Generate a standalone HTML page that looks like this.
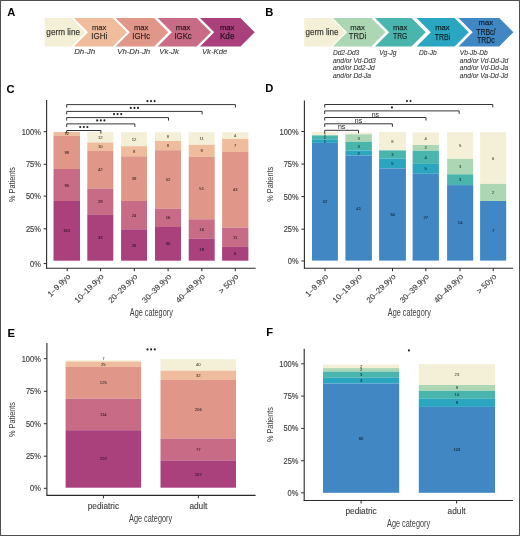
<!DOCTYPE html>
<html><head><meta charset="utf-8"><style>
html,body{margin:0;padding:0;background:#fff;}
svg{display:block;font-family:"Liberation Sans", sans-serif;will-change:transform;opacity:0.999;}
</style></head><body>
<svg width="520" height="536" viewBox="0 0 520 536">
<rect width="520" height="536" fill="#fff"/>
<rect x="0.5" y="0.5" width="519" height="535" fill="none" stroke="#4e4e4e" stroke-width="1"/>
<text x="7.3" y="16.2" font-size="11.2" fill="#000" text-anchor="start" font-weight="bold" font-style="normal" >A</text>
<text x="265.2" y="16.2" font-size="11.2" fill="#000" text-anchor="start" font-weight="bold" font-style="normal" >B</text>
<text x="6.6" y="92.7" font-size="11.2" fill="#000" text-anchor="start" font-weight="bold" font-style="normal" >C</text>
<text x="265.2" y="92.2" font-size="11.2" fill="#000" text-anchor="start" font-weight="bold" font-style="normal" >D</text>
<text x="7.4" y="336.7" font-size="11.2" fill="#000" text-anchor="start" font-weight="bold" font-style="normal" >E</text>
<text x="266.2" y="336.3" font-size="11.2" fill="#000" text-anchor="start" font-weight="bold" font-style="normal" >F</text>
<polygon points="44.60,18.00 71.60,18.00 85.80,32.20 71.60,46.40 44.60,46.40" fill="#f4f0d8"/>
<polygon points="73.80,18.00 112.80,18.00 127.00,32.20 112.80,46.40 73.80,46.40 88.00,32.20" fill="#efbd9d"/>
<polygon points="115.60,18.00 154.10,18.00 168.30,32.20 154.10,46.40 115.60,46.40 129.80,32.20" fill="#e0978a"/>
<polygon points="157.70,18.00 196.70,18.00 210.90,32.20 196.70,46.40 157.70,46.40 171.90,32.20" fill="#c86b86"/>
<polygon points="200.00,18.00 240.50,18.00 254.70,32.20 240.50,46.40 200.00,46.40 214.20,32.20" fill="#aa417c"/>
<polygon points="304.20,18.00 331.20,18.00 345.40,32.20 331.20,46.40 304.20,46.40" fill="#f4f0d8"/>
<polygon points="332.80,18.00 371.30,18.00 385.50,32.20 371.30,46.40 332.80,46.40 347.00,32.20" fill="#add6b5"/>
<polygon points="375.00,18.00 411.50,18.00 425.70,32.20 411.50,46.40 375.00,46.40 389.20,32.20" fill="#4ab5ad"/>
<polygon points="416.60,18.00 454.60,18.00 468.80,32.20 454.60,46.40 416.60,46.40 430.80,32.20" fill="#2ba6c1"/>
<polygon points="458.50,18.00 499.20,18.00 513.40,32.20 499.20,46.40 458.50,46.40 472.70,32.20" fill="#4187c3"/>
<text x="63.2" y="34.6" font-size="8.2" fill="#000" fill-opacity="0.78" stroke="#000" stroke-opacity="0.5" stroke-width="0.25" text-anchor="middle" textLength="33.7" lengthAdjust="spacingAndGlyphs">germ line</text>
<text x="99.2" y="29.8" font-size="7.8" fill="#000" fill-opacity="0.78" stroke="#000" stroke-opacity="0.5" stroke-width="0.25" text-anchor="middle" textLength="14.5" lengthAdjust="spacingAndGlyphs">max</text>
<text x="99.2" y="39.4" font-size="8.4" fill="#000" fill-opacity="0.78" stroke="#000" stroke-opacity="0.5" stroke-width="0.25" text-anchor="middle" textLength="15.9" lengthAdjust="spacingAndGlyphs">IGHi</text>
<text x="141.2" y="29.8" font-size="7.8" fill="#000" fill-opacity="0.78" stroke="#000" stroke-opacity="0.5" stroke-width="0.25" text-anchor="middle" textLength="14.5" lengthAdjust="spacingAndGlyphs">max</text>
<text x="141.2" y="39.4" font-size="8.4" fill="#000" fill-opacity="0.78" stroke="#000" stroke-opacity="0.5" stroke-width="0.25" text-anchor="middle" textLength="17.8" lengthAdjust="spacingAndGlyphs">IGHc</text>
<text x="183.1" y="29.8" font-size="7.8" fill="#000" fill-opacity="0.78" stroke="#000" stroke-opacity="0.5" stroke-width="0.25" text-anchor="middle" textLength="14.5" lengthAdjust="spacingAndGlyphs">max</text>
<text x="183.1" y="39.4" font-size="8.4" fill="#000" fill-opacity="0.78" stroke="#000" stroke-opacity="0.5" stroke-width="0.25" text-anchor="middle" textLength="17.3" lengthAdjust="spacingAndGlyphs">IGKc</text>
<text x="227.2" y="29.8" font-size="7.8" fill="#000" fill-opacity="0.78" stroke="#000" stroke-opacity="0.5" stroke-width="0.25" text-anchor="middle" textLength="14.5" lengthAdjust="spacingAndGlyphs">max</text>
<text x="227.2" y="39.4" font-size="8.4" fill="#000" fill-opacity="0.78" stroke="#000" stroke-opacity="0.5" stroke-width="0.25" text-anchor="middle" textLength="14.5" lengthAdjust="spacingAndGlyphs">Kde</text>
<text x="322.0" y="34.6" font-size="8.2" fill="#000" fill-opacity="0.78" stroke="#000" stroke-opacity="0.5" stroke-width="0.25" text-anchor="middle" textLength="33.0" lengthAdjust="spacingAndGlyphs">germ line</text>
<text x="357.5" y="29.8" font-size="7.8" fill="#000" fill-opacity="0.78" stroke="#000" stroke-opacity="0.5" stroke-width="0.25" text-anchor="middle" textLength="14.5" lengthAdjust="spacingAndGlyphs">max</text>
<text x="357.5" y="39.4" font-size="8.4" fill="#000" fill-opacity="0.78" stroke="#000" stroke-opacity="0.5" stroke-width="0.25" text-anchor="middle" textLength="17.3" lengthAdjust="spacingAndGlyphs">TRDi</text>
<text x="400.2" y="29.8" font-size="7.8" fill="#000" fill-opacity="0.78" stroke="#000" stroke-opacity="0.5" stroke-width="0.25" text-anchor="middle" textLength="14.5" lengthAdjust="spacingAndGlyphs">max</text>
<text x="400.2" y="39.4" font-size="8.4" fill="#000" fill-opacity="0.78" stroke="#000" stroke-opacity="0.5" stroke-width="0.25" text-anchor="middle" textLength="14.3" lengthAdjust="spacingAndGlyphs">TRG</text>
<text x="442.4" y="29.8" font-size="7.8" fill="#000" fill-opacity="0.78" stroke="#000" stroke-opacity="0.5" stroke-width="0.25" text-anchor="middle" textLength="14.5" lengthAdjust="spacingAndGlyphs">max</text>
<text x="442.4" y="39.6" font-size="8.4" fill="#000" fill-opacity="0.78" stroke="#000" stroke-opacity="0.5" stroke-width="0.25" text-anchor="middle" textLength="15.4" lengthAdjust="spacingAndGlyphs">TRBi</text>
<text x="485.8" y="24.9" font-size="7.8" fill="#000" fill-opacity="0.78" stroke="#000" stroke-opacity="0.5" stroke-width="0.25" text-anchor="middle" textLength="14.5" lengthAdjust="spacingAndGlyphs">max</text>
<text x="485.8" y="34.5" font-size="8.4" fill="#000" fill-opacity="0.78" stroke="#000" stroke-opacity="0.5" stroke-width="0.25" text-anchor="middle" textLength="19.2" lengthAdjust="spacingAndGlyphs">TRBc/</text>
<text x="485.8" y="43.4" font-size="8.4" fill="#000" fill-opacity="0.78" stroke="#000" stroke-opacity="0.5" stroke-width="0.25" text-anchor="middle" textLength="17.6" lengthAdjust="spacingAndGlyphs">TRDc</text>
<text x="74.2" y="54.4" font-size="7.3" fill="#222" fill-opacity="0.9" stroke="#222" stroke-opacity="0.5" stroke-width="0.15" font-style="italic" textLength="21" lengthAdjust="spacingAndGlyphs">Dh-Jh</text>
<text x="117.2" y="54.4" font-size="7.3" fill="#222" fill-opacity="0.9" stroke="#222" stroke-opacity="0.5" stroke-width="0.15" font-style="italic" textLength="33" lengthAdjust="spacingAndGlyphs">Vh-Dh-Jh</text>
<text x="159.3" y="54.4" font-size="7.3" fill="#222" fill-opacity="0.9" stroke="#222" stroke-opacity="0.5" stroke-width="0.15" font-style="italic" textLength="19.5" lengthAdjust="spacingAndGlyphs">Vk-Jk</text>
<text x="201.9" y="54.4" font-size="7.3" fill="#222" fill-opacity="0.9" stroke="#222" stroke-opacity="0.5" stroke-width="0.15" font-style="italic" textLength="25.4" lengthAdjust="spacingAndGlyphs">Vk-Kde</text>
<text x="332.9" y="55.0" font-size="6.6" fill="#222" fill-opacity="0.9" stroke="#222" stroke-opacity="0.5" stroke-width="0.15" font-style="italic">Dd2-Dd3</text>
<text x="332.9" y="62.6" font-size="6.6" fill="#222" fill-opacity="0.9" stroke="#222" stroke-opacity="0.5" stroke-width="0.15" font-style="italic">and/or Vd-Dd3</text>
<text x="332.9" y="70.2" font-size="6.6" fill="#222" fill-opacity="0.9" stroke="#222" stroke-opacity="0.5" stroke-width="0.15" font-style="italic">and/or Dd2-Jd</text>
<text x="332.9" y="77.8" font-size="6.6" fill="#222" fill-opacity="0.9" stroke="#222" stroke-opacity="0.5" stroke-width="0.15" font-style="italic">and/or Dd-Ja</text>
<text x="379.2" y="55.0" font-size="6.6" fill="#222" fill-opacity="0.9" stroke="#222" stroke-opacity="0.5" stroke-width="0.15" font-style="italic">Vg-Jg</text>
<text x="419.1" y="55.0" font-size="6.6" fill="#222" fill-opacity="0.9" stroke="#222" stroke-opacity="0.5" stroke-width="0.15" font-style="italic">Db-Jb</text>
<text x="459.8" y="55.0" font-size="6.6" fill="#222" fill-opacity="0.9" stroke="#222" stroke-opacity="0.5" stroke-width="0.15" font-style="italic">Vb-Jb-Db</text>
<text x="459.8" y="62.5" font-size="6.6" fill="#222" fill-opacity="0.9" stroke="#222" stroke-opacity="0.5" stroke-width="0.15" font-style="italic">and/or Vd-Dd-Jd</text>
<text x="459.8" y="70.0" font-size="6.6" fill="#222" fill-opacity="0.9" stroke="#222" stroke-opacity="0.5" stroke-width="0.15" font-style="italic">and/or Vd-Dd-Ja</text>
<text x="459.8" y="77.5" font-size="6.6" fill="#222" fill-opacity="0.9" stroke="#222" stroke-opacity="0.5" stroke-width="0.15" font-style="italic">and/or Va-Dd-Jd</text>
<rect x="53.50" y="132.00" width="26.50" height="3.80" fill="#efbd9d"/>
<rect x="53.50" y="135.80" width="26.50" height="33.20" fill="#e0978a"/>
<rect x="53.50" y="169.00" width="26.50" height="32.00" fill="#c86b86"/>
<rect x="53.50" y="201.00" width="26.50" height="59.70" fill="#aa417c"/>
<text x="66.75" y="135.41" font-size="4.2" fill="#000" fill-opacity="0.75" stroke="#000" stroke-opacity="0.35" stroke-width="0.12" text-anchor="middle">12</text>
<text x="66.75" y="153.91" font-size="4.2" fill="#000" fill-opacity="0.75" stroke="#000" stroke-opacity="0.35" stroke-width="0.12" text-anchor="middle">98</text>
<text x="66.75" y="186.51" font-size="4.2" fill="#000" fill-opacity="0.75" stroke="#000" stroke-opacity="0.35" stroke-width="0.12" text-anchor="middle">95</text>
<text x="66.75" y="232.36" font-size="4.2" fill="#000" fill-opacity="0.75" stroke="#000" stroke-opacity="0.35" stroke-width="0.12" text-anchor="middle">161</text>
<rect x="87.30" y="132.00" width="26.00" height="10.50" fill="#f4f0d8"/>
<rect x="87.30" y="142.50" width="26.00" height="8.40" fill="#efbd9d"/>
<rect x="87.30" y="150.90" width="26.00" height="37.70" fill="#e0978a"/>
<rect x="87.30" y="188.60" width="26.00" height="26.30" fill="#c86b86"/>
<rect x="87.30" y="214.90" width="26.00" height="45.80" fill="#aa417c"/>
<text x="100.30" y="138.76" font-size="4.2" fill="#000" fill-opacity="0.75" stroke="#000" stroke-opacity="0.35" stroke-width="0.12" text-anchor="middle">12</text>
<text x="100.30" y="148.21" font-size="4.2" fill="#000" fill-opacity="0.75" stroke="#000" stroke-opacity="0.35" stroke-width="0.12" text-anchor="middle">10</text>
<text x="100.30" y="171.26" font-size="4.2" fill="#000" fill-opacity="0.75" stroke="#000" stroke-opacity="0.35" stroke-width="0.12" text-anchor="middle">42</text>
<text x="100.30" y="203.26" font-size="4.2" fill="#000" fill-opacity="0.75" stroke="#000" stroke-opacity="0.35" stroke-width="0.12" text-anchor="middle">29</text>
<text x="100.30" y="239.31" font-size="4.2" fill="#000" fill-opacity="0.75" stroke="#000" stroke-opacity="0.35" stroke-width="0.12" text-anchor="middle">33</text>
<rect x="121.10" y="132.30" width="25.90" height="13.90" fill="#f4f0d8"/>
<rect x="121.10" y="146.20" width="25.90" height="10.10" fill="#efbd9d"/>
<rect x="121.10" y="156.30" width="25.90" height="44.70" fill="#e0978a"/>
<rect x="121.10" y="201.00" width="25.90" height="28.30" fill="#c86b86"/>
<rect x="121.10" y="229.30" width="25.90" height="31.40" fill="#aa417c"/>
<text x="134.05" y="140.76" font-size="4.2" fill="#000" fill-opacity="0.75" stroke="#000" stroke-opacity="0.35" stroke-width="0.12" text-anchor="middle">12</text>
<text x="134.05" y="152.76" font-size="4.2" fill="#000" fill-opacity="0.75" stroke="#000" stroke-opacity="0.35" stroke-width="0.12" text-anchor="middle">8</text>
<text x="134.05" y="180.16" font-size="4.2" fill="#000" fill-opacity="0.75" stroke="#000" stroke-opacity="0.35" stroke-width="0.12" text-anchor="middle">39</text>
<text x="134.05" y="216.66" font-size="4.2" fill="#000" fill-opacity="0.75" stroke="#000" stroke-opacity="0.35" stroke-width="0.12" text-anchor="middle">24</text>
<text x="134.05" y="246.51" font-size="4.2" fill="#000" fill-opacity="0.75" stroke="#000" stroke-opacity="0.35" stroke-width="0.12" text-anchor="middle">26</text>
<rect x="155.00" y="132.30" width="26.00" height="8.70" fill="#f4f0d8"/>
<rect x="155.00" y="141.00" width="26.00" height="9.20" fill="#efbd9d"/>
<rect x="155.00" y="150.20" width="26.00" height="58.60" fill="#e0978a"/>
<rect x="155.00" y="208.80" width="26.00" height="18.20" fill="#c86b86"/>
<rect x="155.00" y="227.00" width="26.00" height="33.70" fill="#aa417c"/>
<text x="168.00" y="138.16" font-size="4.2" fill="#000" fill-opacity="0.75" stroke="#000" stroke-opacity="0.35" stroke-width="0.12" text-anchor="middle">8</text>
<text x="168.00" y="147.11" font-size="4.2" fill="#000" fill-opacity="0.75" stroke="#000" stroke-opacity="0.35" stroke-width="0.12" text-anchor="middle">8</text>
<text x="168.00" y="181.01" font-size="4.2" fill="#000" fill-opacity="0.75" stroke="#000" stroke-opacity="0.35" stroke-width="0.12" text-anchor="middle">52</text>
<text x="168.00" y="219.41" font-size="4.2" fill="#000" fill-opacity="0.75" stroke="#000" stroke-opacity="0.35" stroke-width="0.12" text-anchor="middle">16</text>
<text x="168.00" y="245.36" font-size="4.2" fill="#000" fill-opacity="0.75" stroke="#000" stroke-opacity="0.35" stroke-width="0.12" text-anchor="middle">30</text>
<rect x="188.70" y="132.30" width="26.00" height="12.50" fill="#f4f0d8"/>
<rect x="188.70" y="144.80" width="26.00" height="12.10" fill="#efbd9d"/>
<rect x="188.70" y="156.90" width="26.00" height="62.40" fill="#e0978a"/>
<rect x="188.70" y="219.30" width="26.00" height="19.50" fill="#c86b86"/>
<rect x="188.70" y="238.80" width="26.00" height="21.90" fill="#aa417c"/>
<text x="201.70" y="140.06" font-size="4.2" fill="#000" fill-opacity="0.75" stroke="#000" stroke-opacity="0.35" stroke-width="0.12" text-anchor="middle">11</text>
<text x="201.70" y="152.36" font-size="4.2" fill="#000" fill-opacity="0.75" stroke="#000" stroke-opacity="0.35" stroke-width="0.12" text-anchor="middle">9</text>
<text x="201.70" y="189.61" font-size="4.2" fill="#000" fill-opacity="0.75" stroke="#000" stroke-opacity="0.35" stroke-width="0.12" text-anchor="middle">51</text>
<text x="201.70" y="230.56" font-size="4.2" fill="#000" fill-opacity="0.75" stroke="#000" stroke-opacity="0.35" stroke-width="0.12" text-anchor="middle">16</text>
<text x="201.70" y="251.26" font-size="4.2" fill="#000" fill-opacity="0.75" stroke="#000" stroke-opacity="0.35" stroke-width="0.12" text-anchor="middle">18</text>
<rect x="222.10" y="132.30" width="26.30" height="6.50" fill="#f4f0d8"/>
<rect x="222.10" y="138.80" width="26.30" height="13.20" fill="#efbd9d"/>
<rect x="222.10" y="152.00" width="26.30" height="75.60" fill="#e0978a"/>
<rect x="222.10" y="227.60" width="26.30" height="19.30" fill="#c86b86"/>
<rect x="222.10" y="246.90" width="26.30" height="13.80" fill="#aa417c"/>
<text x="235.25" y="137.06" font-size="4.2" fill="#000" fill-opacity="0.75" stroke="#000" stroke-opacity="0.35" stroke-width="0.12" text-anchor="middle">4</text>
<text x="235.25" y="146.91" font-size="4.2" fill="#000" fill-opacity="0.75" stroke="#000" stroke-opacity="0.35" stroke-width="0.12" text-anchor="middle">7</text>
<text x="235.25" y="191.31" font-size="4.2" fill="#000" fill-opacity="0.75" stroke="#000" stroke-opacity="0.35" stroke-width="0.12" text-anchor="middle">43</text>
<text x="235.25" y="238.76" font-size="4.2" fill="#000" fill-opacity="0.75" stroke="#000" stroke-opacity="0.35" stroke-width="0.12" text-anchor="middle">11</text>
<text x="235.25" y="255.31" font-size="4.2" fill="#000" fill-opacity="0.75" stroke="#000" stroke-opacity="0.35" stroke-width="0.12" text-anchor="middle">6</text>
<line x1="46.6" y1="100.0" x2="46.6" y2="268.6" stroke="#2b2b2b" stroke-width="1.1"/>
<line x1="43.6" y1="131.7" x2="46.6" y2="131.7" stroke="#2b2b2b" stroke-width="1.0"/>
<text transform="translate(40.8,134.70) scale(0.9,1)" font-size="8.3" fill="#404040" stroke="#404040" stroke-width="0.15" text-anchor="end">100%</text>
<line x1="43.6" y1="164.3" x2="46.6" y2="164.3" stroke="#2b2b2b" stroke-width="1.0"/>
<text transform="translate(40.8,167.30) scale(0.9,1)" font-size="8.3" fill="#404040" stroke="#404040" stroke-width="0.15" text-anchor="end">75%</text>
<line x1="43.6" y1="196.1" x2="46.6" y2="196.1" stroke="#2b2b2b" stroke-width="1.0"/>
<text transform="translate(40.8,199.10) scale(0.9,1)" font-size="8.3" fill="#404040" stroke="#404040" stroke-width="0.15" text-anchor="end">50%</text>
<line x1="43.6" y1="228.8" x2="46.6" y2="228.8" stroke="#2b2b2b" stroke-width="1.0"/>
<text transform="translate(40.8,231.80) scale(0.9,1)" font-size="8.3" fill="#404040" stroke="#404040" stroke-width="0.15" text-anchor="end">25%</text>
<line x1="43.6" y1="263.6" x2="46.6" y2="263.6" stroke="#2b2b2b" stroke-width="1.0"/>
<text transform="translate(40.8,266.60) scale(0.9,1)" font-size="8.3" fill="#404040" stroke="#404040" stroke-width="0.15" text-anchor="end">0%</text>
<line x1="46.1" y1="268.2" x2="255.6" y2="268.2" stroke="#2b2b2b" stroke-width="1.1"/>
<line x1="67.2" y1="268.2" x2="67.2" y2="271.2" stroke="#2b2b2b" stroke-width="1.0"/>
<line x1="100.6" y1="268.2" x2="100.6" y2="271.2" stroke="#2b2b2b" stroke-width="1.0"/>
<line x1="134.3" y1="268.2" x2="134.3" y2="271.2" stroke="#2b2b2b" stroke-width="1.0"/>
<line x1="168.1" y1="268.2" x2="168.1" y2="271.2" stroke="#2b2b2b" stroke-width="1.0"/>
<line x1="201.8" y1="268.2" x2="201.8" y2="271.2" stroke="#2b2b2b" stroke-width="1.0"/>
<line x1="235.3" y1="268.2" x2="235.3" y2="271.2" stroke="#2b2b2b" stroke-width="1.0"/>
<path d="M66.7,133.5 V130.5 H100.9 V133.5" fill="none" stroke="#2b2b2b" stroke-width="0.95"/>
<circle cx="80.20" cy="127.00" r="1.05" fill="#1e1e1e"/>
<circle cx="83.80" cy="127.00" r="1.05" fill="#1e1e1e"/>
<circle cx="87.40" cy="127.00" r="1.05" fill="#1e1e1e"/>
<path d="M66.7,126.9 V123.9 H134.9 V126.9" fill="none" stroke="#2b2b2b" stroke-width="0.95"/>
<circle cx="97.20" cy="120.40" r="1.05" fill="#1e1e1e"/>
<circle cx="100.80" cy="120.40" r="1.05" fill="#1e1e1e"/>
<circle cx="104.40" cy="120.40" r="1.05" fill="#1e1e1e"/>
<path d="M66.7,120.6 V117.6 H168.5 V120.6" fill="none" stroke="#2b2b2b" stroke-width="0.95"/>
<circle cx="114.00" cy="114.10" r="1.05" fill="#1e1e1e"/>
<circle cx="117.60" cy="114.10" r="1.05" fill="#1e1e1e"/>
<circle cx="121.20" cy="114.10" r="1.05" fill="#1e1e1e"/>
<path d="M66.7,114.4 V111.4 H202.1 V114.4" fill="none" stroke="#2b2b2b" stroke-width="0.95"/>
<circle cx="130.80" cy="107.90" r="1.05" fill="#1e1e1e"/>
<circle cx="134.40" cy="107.90" r="1.05" fill="#1e1e1e"/>
<circle cx="138.00" cy="107.90" r="1.05" fill="#1e1e1e"/>
<path d="M66.7,107.6 V104.6 H235.4 V107.6" fill="none" stroke="#2b2b2b" stroke-width="0.95"/>
<circle cx="147.45" cy="101.10" r="1.05" fill="#1e1e1e"/>
<circle cx="151.05" cy="101.10" r="1.05" fill="#1e1e1e"/>
<circle cx="154.65" cy="101.10" r="1.05" fill="#1e1e1e"/>
<text x="0" y="0" transform="translate(15.3,184.5) rotate(-90)" font-size="9" fill="#404040" text-anchor="middle" textLength="35" lengthAdjust="spacingAndGlyphs">% Patients</text>
<text x="151.3" y="316.2" font-size="10.1" fill="#404040" text-anchor="middle" textLength="43" lengthAdjust="spacingAndGlyphs">Age category</text>
<text x="0" y="0" transform="translate(70.8,277.0) rotate(-45)" font-size="8.0" fill="#404040" stroke="#404040" stroke-width="0.12" text-anchor="end">1–9.9yo</text>
<text x="0" y="0" transform="translate(104.19999999999999,277.0) rotate(-45)" font-size="8.0" fill="#404040" stroke="#404040" stroke-width="0.12" text-anchor="end">10–19.9yo</text>
<text x="0" y="0" transform="translate(137.9,277.0) rotate(-45)" font-size="8.0" fill="#404040" stroke="#404040" stroke-width="0.12" text-anchor="end">20–29.9yo</text>
<text x="0" y="0" transform="translate(171.7,277.0) rotate(-45)" font-size="8.0" fill="#404040" stroke="#404040" stroke-width="0.12" text-anchor="end">30–39.9yo</text>
<text x="0" y="0" transform="translate(205.4,277.0) rotate(-45)" font-size="8.0" fill="#404040" stroke="#404040" stroke-width="0.12" text-anchor="end">40–49.9yo</text>
<text x="0" y="0" transform="translate(238.9,277.0) rotate(-45)" font-size="8.0" fill="#404040" stroke="#404040" stroke-width="0.12" text-anchor="end">&gt; 50yo</text>
<rect x="312.00" y="131.90" width="25.90" height="3.50" fill="#f4f0d8"/>
<rect x="312.00" y="135.40" width="25.90" height="3.90" fill="#4ab5ad"/>
<rect x="312.00" y="139.30" width="25.90" height="3.60" fill="#2ba6c1"/>
<rect x="312.00" y="142.90" width="25.90" height="117.70" fill="#4187c3"/>
<text x="324.95" y="135.51" font-size="4.2" fill="#000" fill-opacity="0.75" stroke="#000" stroke-opacity="0.35" stroke-width="0.12" text-anchor="middle">1</text>
<text x="324.95" y="139.11" font-size="4.2" fill="#000" fill-opacity="0.75" stroke="#000" stroke-opacity="0.35" stroke-width="0.12" text-anchor="middle">1</text>
<text x="324.95" y="142.71" font-size="4.2" fill="#000" fill-opacity="0.75" stroke="#000" stroke-opacity="0.35" stroke-width="0.12" text-anchor="middle">1</text>
<text x="324.95" y="203.26" font-size="4.2" fill="#000" fill-opacity="0.75" stroke="#000" stroke-opacity="0.35" stroke-width="0.12" text-anchor="middle">32</text>
<rect x="345.40" y="132.50" width="26.50" height="1.80" fill="#f4f0d8"/>
<rect x="345.40" y="134.30" width="26.50" height="7.60" fill="#add6b5"/>
<rect x="345.40" y="141.90" width="26.50" height="8.70" fill="#4ab5ad"/>
<rect x="345.40" y="150.60" width="26.50" height="5.00" fill="#2ba6c1"/>
<rect x="345.40" y="155.60" width="26.50" height="105.00" fill="#4187c3"/>
<text x="358.65" y="139.61" font-size="4.2" fill="#000" fill-opacity="0.75" stroke="#000" stroke-opacity="0.35" stroke-width="0.12" text-anchor="middle">3</text>
<text x="358.65" y="147.76" font-size="4.2" fill="#000" fill-opacity="0.75" stroke="#000" stroke-opacity="0.35" stroke-width="0.12" text-anchor="middle">3</text>
<text x="358.65" y="154.61" font-size="4.2" fill="#000" fill-opacity="0.75" stroke="#000" stroke-opacity="0.35" stroke-width="0.12" text-anchor="middle">2</text>
<text x="358.65" y="209.61" font-size="4.2" fill="#000" fill-opacity="0.75" stroke="#000" stroke-opacity="0.35" stroke-width="0.12" text-anchor="middle">41</text>
<rect x="379.10" y="132.00" width="26.80" height="18.40" fill="#f4f0d8"/>
<rect x="379.10" y="150.40" width="26.80" height="8.30" fill="#4ab5ad"/>
<rect x="379.10" y="158.70" width="26.80" height="9.70" fill="#2ba6c1"/>
<rect x="379.10" y="168.40" width="26.80" height="92.20" fill="#4187c3"/>
<text x="392.50" y="142.71" font-size="4.2" fill="#000" fill-opacity="0.75" stroke="#000" stroke-opacity="0.35" stroke-width="0.12" text-anchor="middle">8</text>
<text x="392.50" y="156.06" font-size="4.2" fill="#000" fill-opacity="0.75" stroke="#000" stroke-opacity="0.35" stroke-width="0.12" text-anchor="middle">3</text>
<text x="392.50" y="165.06" font-size="4.2" fill="#000" fill-opacity="0.75" stroke="#000" stroke-opacity="0.35" stroke-width="0.12" text-anchor="middle">5</text>
<text x="392.50" y="216.01" font-size="4.2" fill="#000" fill-opacity="0.75" stroke="#000" stroke-opacity="0.35" stroke-width="0.12" text-anchor="middle">34</text>
<rect x="412.60" y="132.40" width="26.30" height="12.60" fill="#f4f0d8"/>
<rect x="412.60" y="145.00" width="26.30" height="5.80" fill="#add6b5"/>
<rect x="412.60" y="150.80" width="26.30" height="13.10" fill="#4ab5ad"/>
<rect x="412.60" y="163.90" width="26.30" height="9.90" fill="#2ba6c1"/>
<rect x="412.60" y="173.80" width="26.30" height="86.80" fill="#4187c3"/>
<text x="425.75" y="140.21" font-size="4.2" fill="#000" fill-opacity="0.75" stroke="#000" stroke-opacity="0.35" stroke-width="0.12" text-anchor="middle">4</text>
<text x="425.75" y="149.41" font-size="4.2" fill="#000" fill-opacity="0.75" stroke="#000" stroke-opacity="0.35" stroke-width="0.12" text-anchor="middle">2</text>
<text x="425.75" y="158.86" font-size="4.2" fill="#000" fill-opacity="0.75" stroke="#000" stroke-opacity="0.35" stroke-width="0.12" text-anchor="middle">4</text>
<text x="425.75" y="170.36" font-size="4.2" fill="#000" fill-opacity="0.75" stroke="#000" stroke-opacity="0.35" stroke-width="0.12" text-anchor="middle">5</text>
<text x="425.75" y="218.71" font-size="4.2" fill="#000" fill-opacity="0.75" stroke="#000" stroke-opacity="0.35" stroke-width="0.12" text-anchor="middle">27</text>
<rect x="447.10" y="132.30" width="26.10" height="26.60" fill="#f4f0d8"/>
<rect x="447.10" y="158.90" width="26.10" height="15.40" fill="#add6b5"/>
<rect x="447.10" y="174.30" width="26.10" height="10.80" fill="#4ab5ad"/>
<rect x="447.10" y="185.10" width="26.10" height="75.50" fill="#4187c3"/>
<text x="460.15" y="147.11" font-size="4.2" fill="#000" fill-opacity="0.75" stroke="#000" stroke-opacity="0.35" stroke-width="0.12" text-anchor="middle">5</text>
<text x="460.15" y="168.11" font-size="4.2" fill="#000" fill-opacity="0.75" stroke="#000" stroke-opacity="0.35" stroke-width="0.12" text-anchor="middle">3</text>
<text x="460.15" y="181.21" font-size="4.2" fill="#000" fill-opacity="0.75" stroke="#000" stroke-opacity="0.35" stroke-width="0.12" text-anchor="middle">3</text>
<text x="460.15" y="224.36" font-size="4.2" fill="#000" fill-opacity="0.75" stroke="#000" stroke-opacity="0.35" stroke-width="0.12" text-anchor="middle">14</text>
<rect x="480.10" y="132.30" width="26.10" height="51.60" fill="#f4f0d8"/>
<rect x="480.10" y="183.90" width="26.10" height="17.10" fill="#add6b5"/>
<rect x="480.10" y="201.00" width="26.10" height="59.60" fill="#4187c3"/>
<text x="493.15" y="159.61" font-size="4.2" fill="#000" fill-opacity="0.75" stroke="#000" stroke-opacity="0.35" stroke-width="0.12" text-anchor="middle">6</text>
<text x="493.15" y="193.96" font-size="4.2" fill="#000" fill-opacity="0.75" stroke="#000" stroke-opacity="0.35" stroke-width="0.12" text-anchor="middle">2</text>
<text x="493.15" y="232.31" font-size="4.2" fill="#000" fill-opacity="0.75" stroke="#000" stroke-opacity="0.35" stroke-width="0.12" text-anchor="middle">7</text>
<line x1="304.4" y1="100.4" x2="304.4" y2="268.6" stroke="#2b2b2b" stroke-width="1.1"/>
<line x1="301.4" y1="131.5" x2="304.4" y2="131.5" stroke="#2b2b2b" stroke-width="1.0"/>
<text transform="translate(298.6,134.50) scale(0.9,1)" font-size="8.3" fill="#404040" stroke="#404040" stroke-width="0.15" text-anchor="end">100%</text>
<line x1="301.4" y1="164.1" x2="304.4" y2="164.1" stroke="#2b2b2b" stroke-width="1.0"/>
<text transform="translate(298.6,167.10) scale(0.9,1)" font-size="8.3" fill="#404040" stroke="#404040" stroke-width="0.15" text-anchor="end">75%</text>
<line x1="301.4" y1="196.6" x2="304.4" y2="196.6" stroke="#2b2b2b" stroke-width="1.0"/>
<text transform="translate(298.6,199.60) scale(0.9,1)" font-size="8.3" fill="#404040" stroke="#404040" stroke-width="0.15" text-anchor="end">50%</text>
<line x1="301.4" y1="229.2" x2="304.4" y2="229.2" stroke="#2b2b2b" stroke-width="1.0"/>
<text transform="translate(298.6,232.20) scale(0.9,1)" font-size="8.3" fill="#404040" stroke="#404040" stroke-width="0.15" text-anchor="end">25%</text>
<line x1="301.4" y1="261.0" x2="304.4" y2="261.0" stroke="#2b2b2b" stroke-width="1.0"/>
<text transform="translate(298.6,264.00) scale(0.9,1)" font-size="8.3" fill="#404040" stroke="#404040" stroke-width="0.15" text-anchor="end">0%</text>
<line x1="303.9" y1="268.2" x2="513.0" y2="268.2" stroke="#2b2b2b" stroke-width="1.1"/>
<line x1="325.0" y1="268.2" x2="325.0" y2="271.2" stroke="#2b2b2b" stroke-width="1.0"/>
<line x1="358.7" y1="268.2" x2="358.7" y2="271.2" stroke="#2b2b2b" stroke-width="1.0"/>
<line x1="392.5" y1="268.2" x2="392.5" y2="271.2" stroke="#2b2b2b" stroke-width="1.0"/>
<line x1="425.8" y1="268.2" x2="425.8" y2="271.2" stroke="#2b2b2b" stroke-width="1.0"/>
<line x1="460.0" y1="268.2" x2="460.0" y2="271.2" stroke="#2b2b2b" stroke-width="1.0"/>
<line x1="493.2" y1="268.2" x2="493.2" y2="271.2" stroke="#2b2b2b" stroke-width="1.0"/>
<path d="M324.7,133.3 V130.3 H358.5 V133.3" fill="none" stroke="#2b2b2b" stroke-width="0.95"/>
<text x="341.60" y="129.4" font-size="7.0" fill="#222" text-anchor="middle">ns</text>
<path d="M324.7,126.8 V123.8 H392.4 V126.8" fill="none" stroke="#2b2b2b" stroke-width="0.95"/>
<text x="358.55" y="122.9" font-size="7.0" fill="#222" text-anchor="middle">ns</text>
<path d="M324.7,120.5 V117.5 H426.0 V120.5" fill="none" stroke="#2b2b2b" stroke-width="0.95"/>
<text x="375.35" y="116.5" font-size="7.0" fill="#222" text-anchor="middle">ns</text>
<path d="M324.7,113.9 V110.9 H459.2 V113.9" fill="none" stroke="#2b2b2b" stroke-width="0.95"/>
<circle cx="391.95" cy="107.40" r="1.05" fill="#1e1e1e"/>
<path d="M324.7,107.5 V104.5 H492.8 V107.5" fill="none" stroke="#2b2b2b" stroke-width="0.95"/>
<circle cx="406.95" cy="101.00" r="1.05" fill="#1e1e1e"/>
<circle cx="410.55" cy="101.00" r="1.05" fill="#1e1e1e"/>
<text x="0" y="0" transform="translate(273.4,184.3) rotate(-90)" font-size="9" fill="#404040" text-anchor="middle" textLength="35" lengthAdjust="spacingAndGlyphs">% Patients</text>
<text x="409.3" y="316.2" font-size="10.1" fill="#404040" text-anchor="middle" textLength="43" lengthAdjust="spacingAndGlyphs">Age category</text>
<text x="0" y="0" transform="translate(328.6,277.0) rotate(-45)" font-size="8.0" fill="#404040" stroke="#404040" stroke-width="0.12" text-anchor="end">1–9.9yo</text>
<text x="0" y="0" transform="translate(362.3,277.0) rotate(-45)" font-size="8.0" fill="#404040" stroke="#404040" stroke-width="0.12" text-anchor="end">10–19.9yo</text>
<text x="0" y="0" transform="translate(396.1,277.0) rotate(-45)" font-size="8.0" fill="#404040" stroke="#404040" stroke-width="0.12" text-anchor="end">20–29.9yo</text>
<text x="0" y="0" transform="translate(429.40000000000003,277.0) rotate(-45)" font-size="8.0" fill="#404040" stroke="#404040" stroke-width="0.12" text-anchor="end">30–39.9yo</text>
<text x="0" y="0" transform="translate(463.6,277.0) rotate(-45)" font-size="8.0" fill="#404040" stroke="#404040" stroke-width="0.12" text-anchor="end">40–49.9yo</text>
<text x="0" y="0" transform="translate(496.8,277.0) rotate(-45)" font-size="8.0" fill="#404040" stroke="#404040" stroke-width="0.12" text-anchor="end">&gt; 50yo</text>
<rect x="65.60" y="360.20" width="75.50" height="1.30" fill="#f4f0d8"/>
<rect x="65.60" y="361.50" width="75.50" height="5.40" fill="#efbd9d"/>
<rect x="65.60" y="366.90" width="75.50" height="31.80" fill="#e0978a"/>
<rect x="65.60" y="398.70" width="75.50" height="31.50" fill="#c86b86"/>
<rect x="65.60" y="430.20" width="75.50" height="57.50" fill="#aa417c"/>
<text x="103.35" y="365.91" font-size="4.2" fill="#000" fill-opacity="0.75" stroke="#000" stroke-opacity="0.35" stroke-width="0.12" text-anchor="middle">25</text>
<text x="103.35" y="384.31" font-size="4.2" fill="#000" fill-opacity="0.75" stroke="#000" stroke-opacity="0.35" stroke-width="0.12" text-anchor="middle">125</text>
<text x="103.35" y="415.96" font-size="4.2" fill="#000" fill-opacity="0.75" stroke="#000" stroke-opacity="0.35" stroke-width="0.12" text-anchor="middle">114</text>
<text x="103.35" y="460.46" font-size="4.2" fill="#000" fill-opacity="0.75" stroke="#000" stroke-opacity="0.35" stroke-width="0.12" text-anchor="middle">222</text>
<text x="103.40" y="360.11" font-size="4.2" fill="#000" fill-opacity="0.75" stroke="#000" stroke-opacity="0.35" stroke-width="0.12" text-anchor="middle">7</text>
<rect x="160.50" y="359.20" width="75.50" height="11.50" fill="#f4f0d8"/>
<rect x="160.50" y="370.70" width="75.50" height="9.20" fill="#efbd9d"/>
<rect x="160.50" y="379.90" width="75.50" height="58.60" fill="#e0978a"/>
<rect x="160.50" y="438.50" width="75.50" height="21.90" fill="#c86b86"/>
<rect x="160.50" y="460.40" width="75.50" height="27.30" fill="#aa417c"/>
<text x="198.25" y="366.46" font-size="4.2" fill="#000" fill-opacity="0.75" stroke="#000" stroke-opacity="0.35" stroke-width="0.12" text-anchor="middle">40</text>
<text x="198.25" y="376.81" font-size="4.2" fill="#000" fill-opacity="0.75" stroke="#000" stroke-opacity="0.35" stroke-width="0.12" text-anchor="middle">32</text>
<text x="198.25" y="410.71" font-size="4.2" fill="#000" fill-opacity="0.75" stroke="#000" stroke-opacity="0.35" stroke-width="0.12" text-anchor="middle">206</text>
<text x="198.25" y="450.96" font-size="4.2" fill="#000" fill-opacity="0.75" stroke="#000" stroke-opacity="0.35" stroke-width="0.12" text-anchor="middle">77</text>
<text x="198.25" y="475.56" font-size="4.2" fill="#000" fill-opacity="0.75" stroke="#000" stroke-opacity="0.35" stroke-width="0.12" text-anchor="middle">107</text>
<line x1="46.9" y1="342.9" x2="46.9" y2="495.8" stroke="#2b2b2b" stroke-width="1.1"/>
<line x1="43.9" y1="358.7" x2="46.9" y2="358.7" stroke="#2b2b2b" stroke-width="1.0"/>
<text transform="translate(40.8,361.70) scale(0.9,1)" font-size="8.3" fill="#404040" stroke="#404040" stroke-width="0.15" text-anchor="end">100%</text>
<line x1="43.9" y1="391.3" x2="46.9" y2="391.3" stroke="#2b2b2b" stroke-width="1.0"/>
<text transform="translate(40.8,394.30) scale(0.9,1)" font-size="8.3" fill="#404040" stroke="#404040" stroke-width="0.15" text-anchor="end">75%</text>
<line x1="43.9" y1="423.7" x2="46.9" y2="423.7" stroke="#2b2b2b" stroke-width="1.0"/>
<text transform="translate(40.8,426.70) scale(0.9,1)" font-size="8.3" fill="#404040" stroke="#404040" stroke-width="0.15" text-anchor="end">50%</text>
<line x1="43.9" y1="456.2" x2="46.9" y2="456.2" stroke="#2b2b2b" stroke-width="1.0"/>
<text transform="translate(40.8,459.20) scale(0.9,1)" font-size="8.3" fill="#404040" stroke="#404040" stroke-width="0.15" text-anchor="end">25%</text>
<line x1="43.9" y1="488.3" x2="46.9" y2="488.3" stroke="#2b2b2b" stroke-width="1.0"/>
<text transform="translate(40.8,491.30) scale(0.9,1)" font-size="8.3" fill="#404040" stroke="#404040" stroke-width="0.15" text-anchor="end">0%</text>
<line x1="46.4" y1="495.4" x2="255.6" y2="495.4" stroke="#2b2b2b" stroke-width="1.1"/>
<line x1="103.4" y1="495.4" x2="103.4" y2="498.4" stroke="#2b2b2b" stroke-width="1.0"/>
<line x1="198.4" y1="495.4" x2="198.4" y2="498.4" stroke="#2b2b2b" stroke-width="1.0"/>
<circle cx="147.50" cy="349.40" r="1.05" fill="#1e1e1e"/>
<circle cx="151.15" cy="349.40" r="1.05" fill="#1e1e1e"/>
<circle cx="154.80" cy="349.40" r="1.05" fill="#1e1e1e"/>
<text x="0" y="0" transform="translate(15.3,419.5) rotate(-90)" font-size="9" fill="#404040" text-anchor="middle" textLength="35" lengthAdjust="spacingAndGlyphs">% Patients</text>
<text x="103.4" y="508.5" font-size="8.3" fill="#404040" stroke="#404040" stroke-width="0.12" text-anchor="middle">pediatric</text>
<text x="198.4" y="508.5" font-size="8.3" fill="#404040" stroke="#404040" stroke-width="0.12" text-anchor="middle">adult</text>
<text x="150.6" y="521.6" font-size="10.1" fill="#404040" text-anchor="middle" textLength="43" lengthAdjust="spacingAndGlyphs">Age category</text>
<rect x="323.00" y="364.50" width="76.20" height="3.60" fill="#f4f0d8"/>
<rect x="323.00" y="368.10" width="76.20" height="3.50" fill="#add6b5"/>
<rect x="323.00" y="371.60" width="76.20" height="6.20" fill="#4ab5ad"/>
<rect x="323.00" y="377.80" width="76.20" height="5.70" fill="#2ba6c1"/>
<rect x="323.00" y="383.50" width="76.20" height="109.30" fill="#4187c3"/>
<text x="361.10" y="367.81" font-size="4.2" fill="#000" fill-opacity="0.75" stroke="#000" stroke-opacity="0.35" stroke-width="0.12" text-anchor="middle">2</text>
<text x="361.10" y="371.36" font-size="4.2" fill="#000" fill-opacity="0.75" stroke="#000" stroke-opacity="0.35" stroke-width="0.12" text-anchor="middle">2</text>
<text x="361.10" y="376.21" font-size="4.2" fill="#000" fill-opacity="0.75" stroke="#000" stroke-opacity="0.35" stroke-width="0.12" text-anchor="middle">3</text>
<text x="361.10" y="382.16" font-size="4.2" fill="#000" fill-opacity="0.75" stroke="#000" stroke-opacity="0.35" stroke-width="0.12" text-anchor="middle">3</text>
<text x="361.10" y="439.66" font-size="4.2" fill="#000" fill-opacity="0.75" stroke="#000" stroke-opacity="0.35" stroke-width="0.12" text-anchor="middle">80</text>
<rect x="418.80" y="364.20" width="76.20" height="20.80" fill="#f4f0d8"/>
<rect x="418.80" y="385.00" width="76.20" height="5.80" fill="#add6b5"/>
<rect x="418.80" y="390.80" width="76.20" height="8.00" fill="#4ab5ad"/>
<rect x="418.80" y="398.80" width="76.20" height="8.10" fill="#2ba6c1"/>
<rect x="418.80" y="406.90" width="76.20" height="85.90" fill="#4187c3"/>
<text x="456.90" y="376.11" font-size="4.2" fill="#000" fill-opacity="0.75" stroke="#000" stroke-opacity="0.35" stroke-width="0.12" text-anchor="middle">23</text>
<text x="456.90" y="389.41" font-size="4.2" fill="#000" fill-opacity="0.75" stroke="#000" stroke-opacity="0.35" stroke-width="0.12" text-anchor="middle">8</text>
<text x="456.90" y="396.31" font-size="4.2" fill="#000" fill-opacity="0.75" stroke="#000" stroke-opacity="0.35" stroke-width="0.12" text-anchor="middle">10</text>
<text x="456.90" y="404.36" font-size="4.2" fill="#000" fill-opacity="0.75" stroke="#000" stroke-opacity="0.35" stroke-width="0.12" text-anchor="middle">9</text>
<text x="456.90" y="451.36" font-size="4.2" fill="#000" fill-opacity="0.75" stroke="#000" stroke-opacity="0.35" stroke-width="0.12" text-anchor="middle">103</text>
<line x1="304.2" y1="348.8" x2="304.2" y2="501.0" stroke="#2b2b2b" stroke-width="1.1"/>
<line x1="301.2" y1="363.8" x2="304.2" y2="363.8" stroke="#2b2b2b" stroke-width="1.0"/>
<text transform="translate(298.4,366.80) scale(0.9,1)" font-size="8.3" fill="#404040" stroke="#404040" stroke-width="0.15" text-anchor="end">100%</text>
<line x1="301.2" y1="396.1" x2="304.2" y2="396.1" stroke="#2b2b2b" stroke-width="1.0"/>
<text transform="translate(298.4,399.10) scale(0.9,1)" font-size="8.3" fill="#404040" stroke="#404040" stroke-width="0.15" text-anchor="end">75%</text>
<line x1="301.2" y1="428.4" x2="304.2" y2="428.4" stroke="#2b2b2b" stroke-width="1.0"/>
<text transform="translate(298.4,431.40) scale(0.9,1)" font-size="8.3" fill="#404040" stroke="#404040" stroke-width="0.15" text-anchor="end">50%</text>
<line x1="301.2" y1="460.7" x2="304.2" y2="460.7" stroke="#2b2b2b" stroke-width="1.0"/>
<text transform="translate(298.4,463.70) scale(0.9,1)" font-size="8.3" fill="#404040" stroke="#404040" stroke-width="0.15" text-anchor="end">25%</text>
<line x1="301.2" y1="492.8" x2="304.2" y2="492.8" stroke="#2b2b2b" stroke-width="1.0"/>
<text transform="translate(298.4,495.80) scale(0.9,1)" font-size="8.3" fill="#404040" stroke="#404040" stroke-width="0.15" text-anchor="end">0%</text>
<line x1="303.7" y1="500.5" x2="513.0" y2="500.5" stroke="#2b2b2b" stroke-width="1.1"/>
<line x1="361.1" y1="500.5" x2="361.1" y2="503.5" stroke="#2b2b2b" stroke-width="1.0"/>
<line x1="456.6" y1="500.5" x2="456.6" y2="503.5" stroke="#2b2b2b" stroke-width="1.0"/>
<circle cx="408.90" cy="350.40" r="1.05" fill="#1e1e1e"/>
<text x="0" y="0" transform="translate(273.4,424.6) rotate(-90)" font-size="9" fill="#404040" text-anchor="middle" textLength="35" lengthAdjust="spacingAndGlyphs">% Patients</text>
<text x="361.1" y="513.5" font-size="8.3" fill="#404040" stroke="#404040" stroke-width="0.12" text-anchor="middle">pediatric</text>
<text x="456.6" y="513.5" font-size="8.3" fill="#404040" stroke="#404040" stroke-width="0.12" text-anchor="middle">adult</text>
<text x="408.6" y="526.5" font-size="10.1" fill="#404040" text-anchor="middle" textLength="43" lengthAdjust="spacingAndGlyphs">Age category</text>
</svg>
</body></html>
